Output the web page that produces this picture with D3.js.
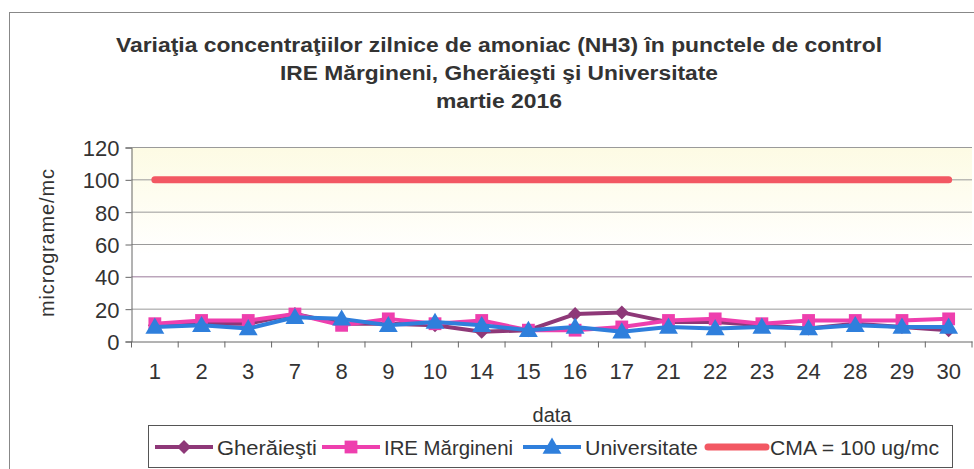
<!DOCTYPE html>
<html><head><meta charset="utf-8">
<script src="https://cdn.jsdelivr.net/npm/d3@7"></script>
<style>body{margin:0;background:#fff}svg{display:block}</style>
</head><body>
<script>
const categories = ["1","2","3","7","8","9","10","14","15","16","17","21","22","23","24","28","29","30"];
const gheraiesti = [10, 11, 11, 17, 11, 11, 10, 6, 7, 17, 18, 12, 12, 10, 8, 11, 9, 7];
const ireMargineni = [11, 13, 13, 17, 10, 14, 11, 13, 7, 7, 9, 13, 14, 11, 13, 13, 13, 14];
const universitate = [9, 10, 8, 15, 14, 10, 12, 10, 7, 9, 6, 9, 8, 9, 8, 10, 9, 9];
const cma = categories.map(() => 100);
const yTicks = [0, 20, 40, 60, 80, 100, 120];
const titleLines = ["Variaţia concentraţiilor zilnice de amoniac (NH3) în punctele de control",
  "IRE Mărgineni, Gherăieşti şi Universitate", "martie 2016"];

const series = [
  {name: "Gherăieşti", values: gheraiesti, color: "#8e3878", marker: "diamond"},
  {name: "IRE Mărgineni", values: ireMargineni, color: "#ee3fae", marker: "square"},
  {name: "Universitate", values: universitate, color: "#2f7fdc", marker: "triangle"},
  {name: "CMA = 100 ug/mc", values: cma, color: "#f25863", marker: null}
];

const W = 974, H = 469;
const svg = d3.select("body").append("svg").attr("width", W).attr("height", H)
  .style("font-family", "'Liberation Sans', Arial, sans-serif");

// outer chart border
svg.append("rect").attr("x", 9.5).attr("y", 12.5).attr("width", 980).attr("height", 470)
  .attr("fill", "#fff").attr("stroke", "#888").attr("stroke-width", 1);

const plot = {left: 131.5, right: 972, top: 147.5, bottom: 341.5};
const x = d3.scaleBand().domain(categories).range([plot.left, plot.right]);
const y = d3.scaleLinear().domain([0, 120]).range([plot.bottom, plot.top]);

const defs = svg.append("defs");
const grad = defs.append("linearGradient").attr("id", "bg").attr("x1", 0).attr("y1", 0).attr("x2", 0).attr("y2", 1);
grad.append("stop").attr("offset", "0%").attr("stop-color", "#fdfbe4");
grad.append("stop").attr("offset", "25%").attr("stop-color", "#fefdf0");
grad.append("stop").attr("offset", "55%").attr("stop-color", "#ffffff");
svg.append("rect").attr("x", plot.left).attr("y", plot.top)
  .attr("width", plot.right - plot.left).attr("height", plot.bottom - plot.top).attr("fill", "url(#bg)");

// gridlines
svg.append("g").selectAll("line").data(yTicks.filter(d => d > 0)).join("line")
  .attr("x1", plot.left).attr("x2", plot.right)
  .attr("y1", d => y(d)).attr("y2", d => y(d))
  .attr("stroke", d => d === 40 ? "#9a7a9a" : "#9a9a9a").attr("stroke-width", 1);

// y axis
const yAxis = svg.append("g").attr("transform", `translate(${plot.left},0)`)
  .call(d3.axisLeft(y).tickValues(yTicks).tickSize(6).tickPadding(6));
yAxis.select(".domain").attr("stroke", "#666");
yAxis.selectAll(".tick line").attr("stroke", "#666");
yAxis.selectAll("text").attr("font-size", 22).attr("fill", "#333").attr("dy", "0.36em");

// x axis
const xAxis = svg.append("g").attr("transform", `translate(0,${plot.bottom})`)
  .call(d3.axisBottom(x).tickSize(0).tickPadding(22));
xAxis.select(".domain").attr("stroke", "#666");
xAxis.selectAll("text").attr("font-size", 22).attr("fill", "#333");
svg.append("g").selectAll("line").data(categories.concat(["_end"])).join("line")
  .attr("x1", (d, i) => plot.left + i * x.step()).attr("x2", (d, i) => plot.left + i * x.step())
  .attr("y1", plot.bottom).attr("y2", plot.bottom + 6).attr("stroke", "#666");

// lines
const line = d3.line().x((d, i) => x(categories[i]) + x.bandwidth() / 2).y(d => y(d));
function markerPath(type, size) {
  const s = size;
  if (type === "diamond") return `M0,${-s}L${s},0L0,${s}L${-s},0Z`;
  if (type === "square") return `M${-s*0.8},${-s*0.8}H${s*0.8}V${s*0.8}H${-s*0.8}Z`;
  if (type === "triangle") return `M0,${-s*1.05}L${s*1.05},${s*0.75}L${-s*1.05},${s*0.75}Z`;
  return "";
}
const sizes = {diamond: 7, square: 8, triangle: 9};
series.forEach(s => {
  const g = svg.append("g");
  if (!s.marker) {
    g.append("path").datum(s.values).attr("d", line)
      .attr("fill", "none").attr("stroke", s.color).attr("stroke-width", 7).attr("stroke-linecap", "round");
    return;
  }
  g.append("path").datum(s.values).attr("d", line).attr("fill", "none")
    .attr("stroke", s.color).attr("stroke-width", 4).attr("stroke-linejoin", "round");
  g.selectAll("path.m").data(s.values).join("path").attr("class", "m")
    .attr("transform", (d, i) => `translate(${x(categories[i]) + x.bandwidth() / 2},${y(d)})`)
    .attr("d", markerPath(s.marker, sizes[s.marker])).attr("fill", s.color);
});

// title
const titleW = [766, 438, 126];
svg.append("g").selectAll("text").data(titleLines).join("text")
  .attr("x", 499).attr("y", (d, i) => 52 + i * 28).attr("text-anchor", "middle")
  .attr("font-size", 20).attr("font-weight", "bold").attr("fill", "#333")
  .attr("textLength", (d, i) => titleW[i]).attr("lengthAdjust", "spacingAndGlyphs").text(d => d);

// axis titles
svg.append("text").attr("x", 552).attr("y", 422).attr("text-anchor", "middle")
  .attr("font-size", 20).attr("fill", "#333").text("data");
svg.append("text").attr("transform", "translate(54,243) rotate(-90)").attr("text-anchor", "middle")
  .attr("font-size", 20).attr("fill", "#333")
  .attr("textLength", 148).attr("lengthAdjust", "spacing").text("micrograme/mc");

// legend
svg.append("rect").attr("x", 148.5).attr("y", 425.5).attr("width", 804).attr("height", 42)
  .attr("fill", "#fff").attr("stroke", "#555");
const legX = [155, 322, 523, 708];
const legTextW = [100, 129, 113, 169];
series.forEach((s, i) => {
  const g = svg.append("g").attr("transform", `translate(${legX[i]},447)`);
  g.append("line").attr("x1", 0).attr("x2", 58).attr("stroke", s.color)
    .attr("stroke-width", s.marker ? 4 : 7).attr("stroke-linecap", s.marker ? "butt" : "round");
  if (s.marker) g.append("path").attr("transform", "translate(29,0)")
    .attr("d", markerPath(s.marker, sizes[s.marker])).attr("fill", s.color);
  g.append("text").attr("x", 62).attr("y", 0).attr("dy", "0.36em").attr("font-size", 21)
    .attr("textLength", legTextW[i]).attr("lengthAdjust", "spacingAndGlyphs")
    .attr("fill", "#333").text(s.name);
});
</script>
</body></html>
